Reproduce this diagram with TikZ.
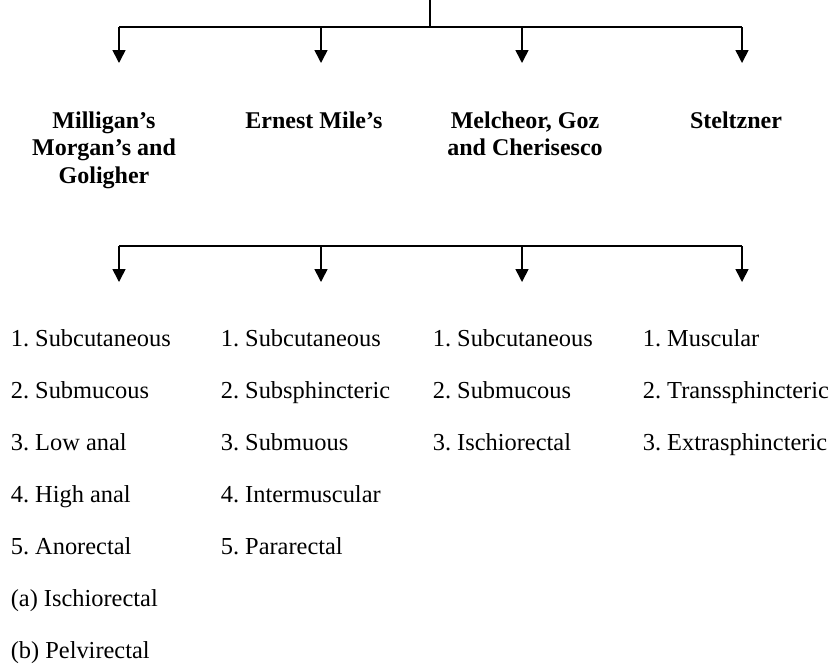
\documentclass[tikz,border=0pt]{standalone}
\usepackage{fontspec}
\setmainfont{Liberation Serif}
\usepackage{tikz}
\usetikzlibrary{positioning, arrows.meta}
\frenchspacing

\begin{document}
\begin{tikzpicture}[x=0.5pt, y=-0.5pt, >={Triangle[length=6.5pt, width=6.5pt]},
      line width=0.8pt,
      head/.style ={font=\fontsize{12}{13.75}\selectfont\bfseries, align=center, anchor=north, inner sep=0pt},
      items/.style={font=\fontsize{12.2}{26}\selectfont, align=left, anchor=north west, inner sep=0pt}]
    \useasboundingbox (0,0) rectangle (833,666);
    % --- TOP: stem coming down from above and the first bus ---
    \coordinate (stem) at (430,0);
    \coordinate (bus1) at (430,27);
    \coordinate (b1a) at (119,27);
    \coordinate (b1d) at (742,27);
    \coordinate (t1a) at (119,63);
    \coordinate (t1b) at (321,63);
    \coordinate (t1c) at (522,63);
    \coordinate (t1d) at (742,63);
    \draw (stem) -- (bus1);
    \draw (b1a) -- (b1d);
    \draw[->] (b1a) -- (t1a);
    \draw[->] (t1b |- bus1) -- (t1b);
    \draw[->] (t1c |- bus1) -- (t1c);
    \draw[->] (b1d) -- (t1d);
    % --- MIDDLE: the four classifications ---
    \node[head] (mill) at (104,111) {Milligan’s\\ Morgan’s and\\ Goligher};
    \node[head] (mile) at (314,111) {Ernest Mile’s};
    \node[head] (melc) at (525,111) {Melcheor, Goz\\ and Cherisesco};
    \node[head] (stel) at (736,111) {Steltzner};
    % --- second bus ---
    \coordinate (b2a) at (119,246);
    \coordinate (b2d) at (742,246);
    \coordinate (t2a) at (119,282);
    \coordinate (t2b) at (321,282);
    \coordinate (t2c) at (522,282);
    \coordinate (t2d) at (742,282);
    \draw (b2a) -- (b2d);
    \draw[->] (b2a) -- (t2a);
    \draw[->] (t2b |- b2a) -- (t2b);
    \draw[->] (t2c |- b2a) -- (t2c);
    \draw[->] (b2d) -- (t2d);
    % --- BOTTOM: the types in each classification ---
    \node[items] (list1) at (10,329)
      {1. Subcutaneous\\ 2. Submucous\\ 3. Low anal\\ 4. High anal\\ 5. Anorectal\\ (a) Ischiorectal\\ (b) Pelvirectal};
    \node[items] (list2) at (220,329)
      {1. Subcutaneous\\ 2. Subsphincteric\\ 3. Submuous\\ 4. Intermuscular\\ 5. Pararectal};
    \node[items] (list3) at (432,329)
      {1. Subcutaneous\\ 2. Submucous\\ 3. Ischiorectal};
    \node[items] (list4) at (642,329)
      {1. Muscular\\ 2. Transsphincteric\\ 3. Extrasphincteric};
  \end{tikzpicture}
\end{document}
